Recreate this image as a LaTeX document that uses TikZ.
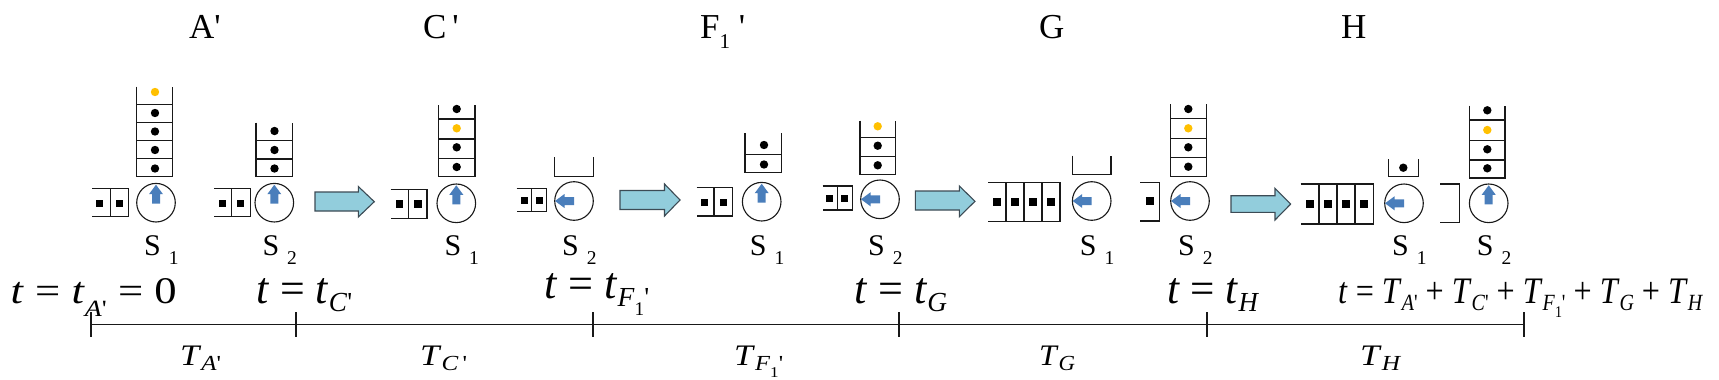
\documentclass[tikz,border=0pt]{standalone}
\usepackage{fontspec}
\setmainfont{Liberation Serif}
\definecolor{sblue}{RGB}{74,126,187}
\definecolor{ylw}{RGB}{255,192,0}
\definecolor{afill}{RGB}{146,205,220}
\definecolor{adraw}{RGB}{60,75,85}
\definecolor{lnc}{RGB}{25,25,25}
\newcommand{\prm}{\textquotesingle}
\newcommand{\eqsub}[2][-0.2em]{\raisebox{#1}{\scalebox{0.62}{#2}}}
\newcommand{\tsub}[1]{\raisebox{-0.2em}{\scalebox{0.72}{#1}}}
\newcommand{\eqsp}{\hspace{0.25em}}
\newcommand{\fone}{\textit{F}\raisebox{-0.3em}{\scalebox{0.7}{1}}}
\newcommand{\sqr}[2]{\fill[black] (#1-3.8,#2-3.8) rectangle (#1+3.8,#2+3.8);}
\newcommand{\dotk}[2]{\fill[black] (#1,#2) circle (4.2);}
\newcommand{\doty}[2]{\fill[ylw] (#1,#2) circle (4.2);}
\newcommand{\slab}[3]{\node[slbl] (#1) at (#2-12,255) {S\kern8pt\raisebox{-9pt}{\fontsize{19.5}{19.5}\selectfont #3}};}
\begin{document}
\begin{tikzpicture}[x=1pt,y=-1pt,
  ln/.style={draw=lnc, line width=1.1pt},
  srv/.style={circle, draw=lnc, line width=1.1pt, minimum size=38.6pt, inner sep=0pt},
  big/.style={fill=afill, draw=adraw, line width=1.1pt, line join=miter},
  lbl/.style={inner sep=0pt, anchor=base west},
  toplbl/.style={lbl, font=\fontsize{35}{35}\selectfont},
  slbl/.style={lbl, font=\fontsize{30}{30}\selectfont},
  eq/.style={lbl, font=\fontsize{36}{36}\selectfont},
  tl/.style={lbl, font=\fontsize{26}{26}\selectfont},
  sarr/.pic={\fill[sblue] (0,-4) -- (9.5,-4) -- (9.5,-7) -- (19,0) -- (9.5,7) -- (9.5,4) -- (0,4) -- cycle;}
]
\useasboundingbox[fill=white] (0,0) rectangle (1719,380);

% ---------- top labels ----------
\node[toplbl] (lA) at (189,38) {A\prm};
\node[toplbl] (lC) at (423,38) {C\,\prm};
\node[toplbl] (lF) at (700,38) {F\raisebox{-0.3em}{\fontsize{21}{21}\selectfont 1}\hspace{0.25em}\prm};
\node[toplbl] (lG) at (1039,38) {G};
\node[toplbl] (lH) at (1341,38) {H};

% ---------- group A' ----------
\draw[ln] (92,188.7) -- (128.7,188.7) -- (128.7,216.7) -- (92,216.7);
\draw[ln] (110.3,188.7) -- (110.3,216.7);
\sqr{99.5}{203.3}\sqr{119.5}{203.3}
\draw[ln] (136.7,86.7) -- (136.7,176.7) -- (172.3,176.7) -- (172.3,86.7);
\foreach \yy in {104.3,122.3,140.7,158.7} \draw[ln] (136.7,\yy) -- (172.3,\yy);
\doty{155}{92}\dotk{155}{113}\dotk{155}{131.5}\dotk{155}{150}\dotk{155}{168.5}
\node[srv] (a1) at (156,202.7) {};
\pic[rotate=90] at ([yshift=-1pt]a1.center) {sarr};
\slab{sa1}{156}{1}

\draw[ln] (214,188.7) -- (250.3,188.7) -- (250.3,216.7) -- (214,216.7);
\draw[ln] (231.3,188.7) -- (231.3,216.7);
\sqr{222.5}{203.3}\sqr{240.5}{203.3}
\draw[ln] (256,122.7) -- (256,176.7) -- (292.7,176.7) -- (292.7,122.7);
\foreach \yy in {140.7,159} \draw[ln] (256,\yy) -- (292.7,\yy);
\dotk{274.5}{131}\dotk{274.5}{150}\dotk{274.5}{168.5}
\node[srv] (a2) at (274.3,202.7) {};
\pic[rotate=90] at ([yshift=-1pt]a2.center) {sarr};
\slab{sa2}{274.3}{2}

\draw[big] (315,192) -- (358.3,192) -- (358.3,186.5) -- (374.3,201.7) -- (358.3,217) -- (358.3,211) -- (315,211) -- cycle;

% ---------- group C' ----------
\draw[ln] (390.7,189.3) -- (427,189.3) -- (427,218.3) -- (390.7,218.3);
\draw[ln] (408.7,189.3) -- (408.7,218.3);
\sqr{399.5}{204}\sqr{418}{204}
\draw[ln] (438.7,105) -- (438.7,176.7) -- (475,176.7) -- (475,105);
\foreach \yy in {119,139,158.7} \draw[ln] (438.7,\yy) -- (475,\yy);
\dotk{456.7}{109}\doty{456.7}{128.3}\dotk{456.7}{147.3}\dotk{456.7}{167}
\node[srv] (c1) at (456.3,203.3) {};
\pic[rotate=90] at ([yshift=-1pt]c1.center) {sarr};
\slab{sc1}{456.3}{1}

\draw[ln] (516.7,188.3) -- (546.7,188.3) -- (546.7,211.7) -- (516.7,211.7);
\draw[ln] (531.7,188.3) -- (531.7,211.7);
\sqr{524.3}{200.5}\sqr{539.3}{200.5}
\draw[ln] (554.3,157.3) -- (554.3,176.7) -- (593.3,176.7) -- (593.3,157.3);
\node[srv] (c2) at (574,201) {};
\pic[rotate=180] at (c2.center) {sarr};
\slab{sc2}{574}{2}

\draw[big] (620,190.5) -- (664.5,190.5) -- (664.5,184) -- (680,200) -- (664.5,216) -- (664.5,209.5) -- (620,209.5) -- cycle;

% ---------- group F1' ----------
\draw[ln] (696.7,187.7) -- (732.3,187.7) -- (732.3,216) -- (696.7,216);
\draw[ln] (714,187.7) -- (714,216);
\sqr{704.5}{202.3}\sqr{723.3}{202.3}
\draw[ln] (745,133.3) -- (745,172.3) -- (781.7,172.3) -- (781.7,133.3);
\draw[ln] (745,154.7) -- (781.7,154.7);
\dotk{764}{145}\dotk{764}{164.5}
\node[srv] (f1) at (761.7,201.7) {};
\pic[rotate=90] at ([yshift=-1pt]f1.center) {sarr};
\slab{sf1}{761.7}{1}

\draw[ln] (822.7,186) -- (852.7,186) -- (852.7,210) -- (822.7,210);
\draw[ln] (837.3,186) -- (837.3,210);
\sqr{829.5}{198.3}\sqr{844.5}{198.3}
\draw[ln] (860,120.7) -- (860,174.3) -- (895.3,174.3) -- (895.3,120.7);
\foreach \yy in {137.3,156.7} \draw[ln] (860,\yy) -- (895.3,\yy);
\doty{877.7}{126.3}\dotk{877.7}{145.7}\dotk{877.7}{165.3}
\node[srv] (f2) at (880,199.3) {};
\pic[rotate=180] at (f2.center) {sarr};
\slab{sf2}{880}{2}

\draw[big] (915.3,191) -- (959.3,191) -- (959.3,186) -- (975,201.3) -- (959.3,216.7) -- (959.3,210) -- (915.3,210) -- cycle;

% ---------- group G ----------
\draw[ln] (988.3,182.3) -- (1060,182.3) -- (1060,221.7) -- (988.3,221.7);
\foreach \xx in {1006,1024,1042} \draw[ln] (\xx,182.3) -- (\xx,221.7);
\sqr{997}{201.7}\sqr{1015}{201.7}\sqr{1033}{201.7}\sqr{1051}{201.7}
\draw[ln] (1072.3,155.7) -- (1072.3,174.7) -- (1111,174.7) -- (1111,155.7);
\node[srv] (g1) at (1091.7,201) {};
\pic[rotate=180] at (g1.center) {sarr};
\slab{sg1}{1091.7}{1}

\draw[ln] (1140,182.7) -- (1159.3,182.7) -- (1159.3,221) -- (1140,221);
\sqr{1149.7}{201}
\draw[ln] (1170.7,104.3) -- (1170.7,176.3) -- (1206.3,176.3) -- (1206.3,104.3);
\foreach \yy in {118.3,138.3,157.7} \draw[ln] (1170.7,\yy) -- (1206.3,\yy);
\dotk{1188.3}{109}\doty{1188.3}{128.3}\dotk{1188.3}{147.3}\dotk{1188.3}{166.7}
\node[srv] (g2) at (1190,201) {};
\pic[rotate=180] at (g2.center) {sarr};
\slab{sg2}{1190}{2}

\draw[big] (1231,195.7) -- (1275,195.7) -- (1275,188.3) -- (1290.7,204) -- (1275,220) -- (1275,212.3) -- (1231,212.3) -- cycle;

% ---------- group H ----------
\draw[ln] (1300.5,184) -- (1373.3,184) -- (1373.3,224) -- (1300.5,224);
\foreach \xx in {1319,1337,1355} \draw[ln] (\xx,184) -- (\xx,224);
\sqr{1310}{204}\sqr{1328}{204}\sqr{1346}{204}\sqr{1364}{204}
\draw[ln] (1388.3,159) -- (1388.3,176.7) -- (1418.3,176.7) -- (1418.3,159);
\dotk{1403.3}{167.7}
\node[srv] (h1) at (1404,203.3) {};
\pic[rotate=180] at (h1.center) {sarr};
\slab{sh1}{1404}{1}

\draw[ln] (1440,184) -- (1459.3,184) -- (1459.3,222.7) -- (1440,222.7);
\draw[ln] (1469.3,105.7) -- (1469.3,178) -- (1505,178) -- (1505,105.7);
\foreach \yy in {120,140.3,160} \draw[ln] (1469.3,\yy) -- (1505,\yy);
\dotk{1487.3}{110.3}\doty{1487.3}{130}\dotk{1487.3}{149.3}\dotk{1487.3}{168.3}
\node[srv] (h2) at (1488.7,203.3) {};
\pic[rotate=90] at ([yshift=-1pt]h2.center) {sarr};
\slab{sh2}{1488.7}{2}

% ---------- time line ----------
\coordinate (t0) at (91,324.4);
\coordinate (t1) at (296,324.4);
\coordinate (t2) at (593,324.4);
\coordinate (t3) at (899,324.4);
\coordinate (t4) at (1207,324.4);
\coordinate (t5) at (1524,324.4);
\draw[ln] (t0) -- (t5);
\foreach \tt in {t0,t1,t2,t3,t4,t5} \draw[ln] ([yshift=12.3pt]\tt) -- ([yshift=-12.6pt]\tt);

\node[eq] (e1) at (10.5,303) {\resizebox{166pt}{25pt}{\textit{t}\eqsp=\eqsp\textit{t}\eqsub[-0.36em]{\textit{A}\prm}\eqsp=\eqsp0}};
\node[eq] (e2) at (256,303) {\resizebox{96pt}{25pt}{\textit{t}\eqsp=\eqsp\textit{t}\eqsub{\textit{C}\prm}}};
\node[eq] (e3) at (544,298) {\resizebox{105pt}{25pt}{\textit{t}\eqsp=\eqsp\textit{t}\eqsub{\fone\prm}}};
\node[eq] (e4) at (854,303) {\resizebox{93pt}{25pt}{\textit{t}\eqsp=\eqsp\textit{t}\eqsub{\textit{G}}}};
\node[eq] (e5) at (1167,303) {\resizebox{92pt}{25pt}{\textit{t}\eqsp=\eqsp\textit{t}\eqsub{\textit{H}}}};
\node[eq] (e6) at (1338,303) {\resizebox{365pt}{24.5pt}{\textit{t}\eqsp=\eqsp\textit{T}\eqsub{\textit{A}\prm}\eqsp+\eqsp\textit{T}\eqsub{\textit{C}\prm}\eqsp+\eqsp\textit{T}\eqsub{\fone\prm}\eqsp+\eqsp\textit{T}\eqsub{\textit{G}}\eqsp+\eqsp\textit{T}\eqsub{\textit{H}}}};

\node[tl] (TA) at (180,365) {\resizebox{41pt}{19.5pt}{\textit{T}\tsub{\textit{A}\prm}}};
\node[tl] (TC) at (420,365) {\resizebox{47pt}{19.5pt}{\textit{T}\tsub{\textit{C}\,\prm}}};
\node[tl] (TF) at (734,365) {\resizebox{49pt}{19.5pt}{\textit{T}\tsub{\fone\prm}}};
\node[tl] (TG) at (1039,365) {\resizebox{36pt}{19.5pt}{\textit{T}\tsub{\textit{G}}}};
\node[tl] (TH) at (1360,365) {\resizebox{41pt}{19.5pt}{\textit{T}\tsub{\textit{H}}}};
\end{tikzpicture}
\end{document}
